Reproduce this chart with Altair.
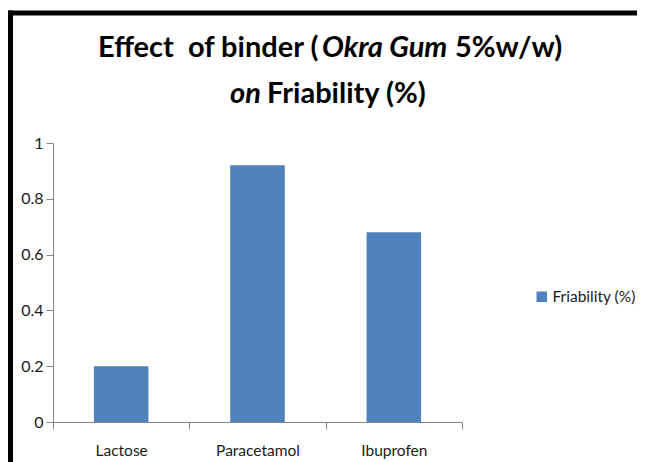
import altair as alt
import pandas as pd

categories = ["Lactose", "Paracetamol", "Ibuprofen"]
friability = [0.20, 0.92, 0.68]
series_name = "Friability (%)"
y_ticks = [0, 0.2, 0.4, 0.6, 0.8, 1]

FONT = "Lato"
BAR = "#4F81BD"
AX = "#868686"
TXT = "#1a1a1a"

df = pd.DataFrame({"Excipient": categories, "Friability": friability, "Series": [series_name] * 3})
one = pd.DataFrame({"k": [0]})

W, H = 409, 279

bars = alt.Chart(df).mark_bar(width={"band": 0.4}, color=BAR).encode(
    x=alt.X("Excipient:N", sort=categories,
            scale=alt.Scale(paddingInner=0, paddingOuter=0),
            axis=alt.Axis(title=None, labelAngle=0, tickBand="extent", tickSize=7,
                          tickColor=AX, domainColor=AX, labelFont=FONT, labelFontSize=15.5,
                          labelColor=TXT, labelPadding=14, grid=False)),
    y=alt.Y("Friability:Q", scale=alt.Scale(domain=[0, 1]),
            axis=alt.Axis(title=None, values=y_ticks, labelExpr="datum.value", tickSize=7,
                          tickColor=AX, domainColor=AX, labelFont=FONT, labelFontSize=16,
                          labelColor=TXT, labelPadding=3, grid=False)),
    color=alt.Color("Series:N", scale=alt.Scale(range=[BAR]),
                    legend=alt.Legend(title=None, orient="none", legendX=481, legendY=146,
                                      padding=0, symbolType="square", symbolSize=110,
                                      symbolStrokeWidth=0, labelFont=FONT, labelFontSize=15.5,
                                      labelColor=TXT, labelOffset=3)),
)

def txt(s, x, y, italic=False):
    return alt.Chart(one).mark_text(
        text=s, font=FONT, fontSize=29, fontWeight="bold",
        fontStyle="italic" if italic else "normal",
        align="left", baseline="alphabetic", color="#000000"
    ).encode(x=alt.value(x), y=alt.value(y))

title_layers = [
    txt("Effect\u00a0\u00a0of binder (", 45, -86),
    txt("Okra Gum", 269, -86, italic=True),
    txt("5%w/w)", 402, -86),
    txt("on", 177, -40, italic=True),
    txt("Friability (%)", 214, -40),
]

border_left = alt.Chart(one).mark_rule(color="black", strokeWidth=5, strokeCap="butt").encode(
    x=alt.value(-42.5), y=alt.value(-132.5), y2=alt.value(345))
border_top = alt.Chart(one).mark_rule(color="black", strokeWidth=5, strokeCap="butt").encode(
    x=alt.value(-45), x2=alt.value(584), y=alt.value(-130))

chart = alt.layer(bars, *title_layers, border_left, border_top).properties(
    width=W, height=H,
    autosize=alt.AutoSizeParams(type="none"),
    padding={"left": 45, "top": 135, "right": 175, "bottom": 45},
).configure_view(stroke=None)

chart.save("out.html", embed_options={"renderer": "svg", "actions": False})
